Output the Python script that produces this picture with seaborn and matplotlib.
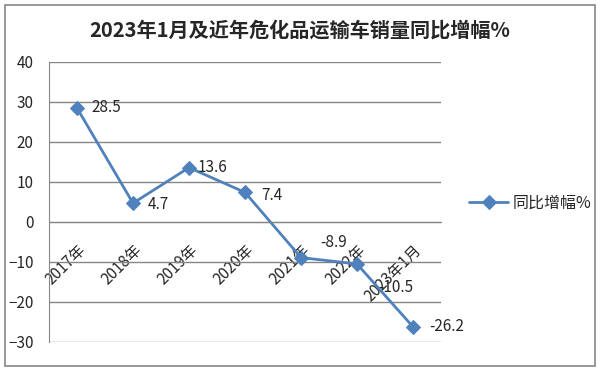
import matplotlib
matplotlib.use("Agg")
import matplotlib.pyplot as plt
import seaborn as sns
from matplotlib.patches import Rectangle
from matplotlib.ticker import MultipleLocator, FixedLocator

# -- Data ----------------------------------------------------------------------
categories = ["2017年", "2018年", "2019年", "2020年", "2021年", "2022年", "2023年1月"]
growth = [28.5, 4.7, 13.6, 7.4, -8.9, -10.5, -26.2]
series_name = "同比增幅%"
title = "2023年1月及近年危化品运输车销量同比增幅%"

# label offsets in pixels (dx, dy)
label_offsets = [(14, 0), (15, -1), (9, 0), (16, -3), (19, 15), (21, -23), (16, 0)]

LINE_COLOR = "#4F81BD"
GRID_COLOR = "#868686"

sns.set_style("white")
plt.rcParams["font.family"] = ["Noto Sans CJK SC", "DejaVu Sans"]

fig = plt.figure(figsize=(6, 3.7), dpi=100)
ax = fig.add_axes([49 / 600, 1 - 342 / 370, 392 / 600, 280 / 370])

sns.lineplot(x=list(range(len(categories))), y=growth, ax=ax,
             color=LINE_COLOR, linewidth=2.0, marker="D", markersize=7,
             markeredgecolor=LINE_COLOR, label=series_name)

ax.set_xlim(-0.5, len(categories) - 0.5)
ax.set_ylim(-30, 40)
ax.yaxis.set_major_locator(MultipleLocator(10))
ax.grid(axis="y", color=GRID_COLOR, linewidth=1)
ax.set_axisbelow(True)

for side in ["top", "right"]:
    ax.spines[side].set_visible(False)
ax.spines["left"].set_color(GRID_COLOR)
ax.spines["bottom"].set_color(GRID_COLOR)
ax.spines["bottom"].set_position(("data", 0))

ax.set_xticks(range(len(categories)))
ax.set_xticklabels(categories, rotation=45, ha="right", va="top",
                   rotation_mode="anchor", fontsize=11)
ax.xaxis.set_minor_locator(FixedLocator([i - 0.5 for i in range(len(categories) + 1)]))
ax.tick_params(axis="x", which="major", length=0, pad=14)
ax.tick_params(axis="x", which="minor", length=5, color=GRID_COLOR, direction="out")
ax.tick_params(axis="y", length=4, color=GRID_COLOR, labelsize=11, pad=7)

# data labels
for i, (v, off) in enumerate(zip(growth, label_offsets)):
    ax.annotate(f"{v}", (i, v), xytext=off, textcoords="offset pixels",
                ha="left", va="center", fontsize=11)

ax.set_xlabel("")
ax.set_ylabel("")

ax.legend(loc="center left", bbox_to_anchor=(455 / 600, 1 - 203 / 370),
          bbox_transform=fig.transFigure, frameon=False, fontsize=11.5,
          handlelength=2.4, handletextpad=0.3)

fig.text(0.5, 1 - 30 / 370, title, ha="center", va="center",
         fontsize=14.5, fontweight="bold")

# outer border
fig.patches.append(Rectangle((5 / 600, 4 / 370), 590 / 600, 361 / 370,
                             transform=fig.transFigure, fill=False,
                             edgecolor=GRID_COLOR, linewidth=1.2))

fig.savefig("out.png", dpi=100)
